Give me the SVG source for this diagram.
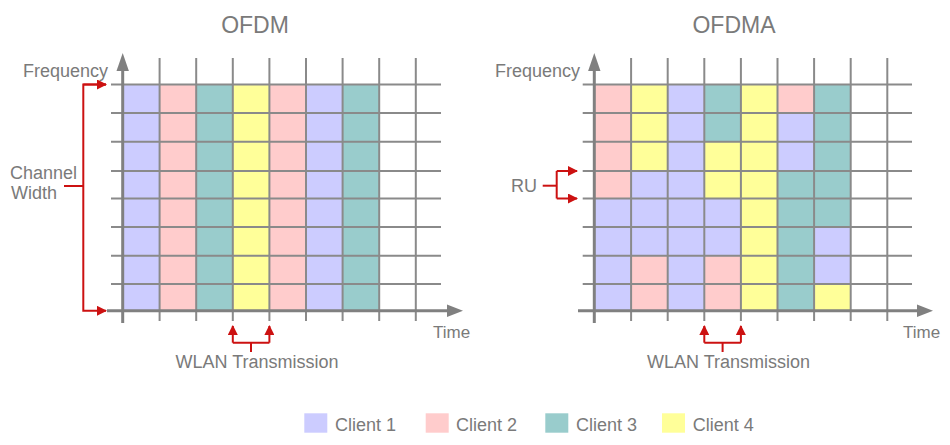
<svg xmlns="http://www.w3.org/2000/svg" width="950" height="445" viewBox="0 0 950 445">
<defs>
<style>
.c1{fill:#ccccff}.c2{fill:#ffcccc}.c3{fill:#99cccc}.c4{fill:#ffff99}
.grid line{stroke:#8a8a8a;stroke-width:2}
.axis{stroke:#808080;stroke-width:3;fill:none}
.ah{fill:#808080}
.t{font-family:"Liberation Sans",Arial,sans-serif;fill:#7a7a7a;font-size:18px}
.title{font-size:23px}
.red{stroke:#cc1111;stroke-width:2;fill:none}
</style>
<marker id="ra" viewBox="0 0 10 10" refX="9" refY="5" markerWidth="5" markerHeight="5" orient="auto" markerUnits="strokeWidth">
<path d="M0,0 L10,5 L0,10 z" fill="#cc1111"/>
</marker>
</defs>
<rect width="950" height="445" fill="#ffffff"/>

<g id="ofdm">
<text class="t title" x="255" y="33" text-anchor="middle">OFDM</text>
<g id="ofdm-cells">
<rect class="c1" x="123" y="84.5" width="36.6" height="226"/>
<rect class="c2" x="159.6" y="84.5" width="36.6" height="226"/>
<rect class="c3" x="196.2" y="84.5" width="36.6" height="226"/>
<rect class="c4" x="232.8" y="84.5" width="36.6" height="226"/>
<rect class="c2" x="269.4" y="84.5" width="36.6" height="226"/>
<rect class="c1" x="306" y="84.5" width="36.6" height="226"/>
<rect class="c3" x="342.6" y="84.5" width="36.6" height="226"/>
</g>
<g class="grid">
<line x1="111" y1="84.5" x2="441" y2="84.5"/>
<line x1="111" y1="113" x2="441" y2="113"/>
<line x1="111" y1="141.7" x2="441" y2="141.7"/>
<line x1="111" y1="171" x2="441" y2="171"/>
<line x1="111" y1="198.5" x2="441" y2="198.5"/>
<line x1="111" y1="227" x2="441" y2="227"/>
<line x1="111" y1="255.7" x2="441" y2="255.7"/>
<line x1="111" y1="284" x2="441" y2="284"/>
<line x1="159.6" y1="58" x2="159.6" y2="321"/>
<line x1="196.2" y1="58" x2="196.2" y2="321"/>
<line x1="232.8" y1="58" x2="232.8" y2="321"/>
<line x1="269.4" y1="58" x2="269.4" y2="321"/>
<line x1="306" y1="58" x2="306" y2="321"/>
<line x1="342.6" y1="58" x2="342.6" y2="321"/>
<line x1="379.2" y1="58" x2="379.2" y2="321"/>
<line x1="415.8" y1="58" x2="415.8" y2="321"/>
</g>
<line class="axis" x1="122.7" y1="323" x2="122.7" y2="68"/>
<polygon class="ah" points="122.7,53 116.5,71 128.9,71"/>
<line class="axis" x1="107" y1="310.8" x2="450" y2="310.8"/>
<polygon class="ah" points="463,310.8 447,304.5 447,317.1"/>
<text class="t" x="108" y="77" text-anchor="end">Frequency</text>
<text class="t" x="433" y="338" font-size="17" style="font-size:17px">Time</text>
<text class="t" x="10" y="179">Channel</text>
<text class="t" x="11" y="199">Width</text>
<text class="t" x="257" y="368" text-anchor="middle">WLAN Transmission</text>
</g>

<g id="ofdma">
<text class="t title" x="734" y="33" text-anchor="middle">OFDMA</text>
<g id="ofdma-cells">
<rect class="c2" x="594.5" y="84.5" width="36.6" height="114"/>
<rect class="c1" x="594.5" y="198.5" width="36.6" height="112"/>
<rect class="c4" x="631.1" y="84.5" width="36.6" height="86.5"/>
<rect class="c1" x="631.1" y="171" width="36.6" height="84.7"/>
<rect class="c2" x="631.1" y="255.7" width="36.6" height="54.8"/>
<rect class="c1" x="667.7" y="84.5" width="36.6" height="226"/>
<rect class="c3" x="704.3" y="84.5" width="36.6" height="57.2"/>
<rect class="c4" x="704.3" y="141.7" width="36.6" height="56.8"/>
<rect class="c1" x="704.3" y="198.5" width="36.6" height="57.2"/>
<rect class="c2" x="704.3" y="255.7" width="36.6" height="54.8"/>
<rect class="c4" x="740.9" y="84.5" width="36.6" height="226"/>
<rect class="c2" x="777.5" y="84.5" width="36.6" height="28.5"/>
<rect class="c1" x="777.5" y="113" width="36.6" height="58"/>
<rect class="c3" x="777.5" y="171" width="36.6" height="139.5"/>
<rect class="c3" x="814.1" y="84.5" width="36.6" height="142.5"/>
<rect class="c1" x="814.1" y="227" width="36.6" height="57"/>
<rect class="c4" x="814.1" y="284" width="36.6" height="26.5"/>
</g>
<g class="grid">
<line x1="582.7" y1="84.5" x2="912" y2="84.5"/>
<line x1="582.7" y1="113" x2="912" y2="113"/>
<line x1="582.7" y1="141.7" x2="912" y2="141.7"/>
<line x1="582.7" y1="171" x2="912" y2="171"/>
<line x1="582.7" y1="198.5" x2="912" y2="198.5"/>
<line x1="582.7" y1="227" x2="912" y2="227"/>
<line x1="582.7" y1="255.7" x2="912" y2="255.7"/>
<line x1="582.7" y1="284" x2="912" y2="284"/>
<line x1="631.1" y1="58" x2="631.1" y2="321"/>
<line x1="667.7" y1="58" x2="667.7" y2="321"/>
<line x1="704.3" y1="58" x2="704.3" y2="321"/>
<line x1="740.9" y1="58" x2="740.9" y2="321"/>
<line x1="777.5" y1="58" x2="777.5" y2="321"/>
<line x1="814.1" y1="58" x2="814.1" y2="321"/>
<line x1="850.7" y1="58" x2="850.7" y2="321"/>
<line x1="887.3" y1="58" x2="887.3" y2="321"/>
</g>
<line class="axis" x1="594.3" y1="323" x2="594.3" y2="68"/>
<polygon class="ah" points="594.3,53 588.1,71 600.5,71"/>
<line class="axis" x1="578" y1="310.8" x2="920" y2="310.8"/>
<polygon class="ah" points="933,310.8 917,304.5 917,317.1"/>
<text class="t" x="580" y="77" text-anchor="end">Frequency</text>
<text class="t" x="903" y="338" style="font-size:17px">Time</text>
<text class="t" x="511" y="192">RU</text>
<text class="t" x="728.5" y="368" text-anchor="middle">WLAN Transmission</text>
</g>

<g id="connectors">
<path class="red" d="M106,84.5 H83.3 V310.8 H106" marker-end="url(#ra)"/>
<path class="red" d="M83.3,84.5 H106" marker-end="url(#ra)"/>
<line class="red" x1="64" y1="186" x2="83.3" y2="186"/>
<path class="red" d="M251,352 V342.7"/>
<path class="red" d="M232.8,342.7 H269.4"/>
<path class="red" d="M232.8,342.7 V326" marker-end="url(#ra)"/>
<path class="red" d="M269.4,342.7 V326" marker-end="url(#ra)"/>
<path class="red" d="M722.6,352 V342.7"/>
<path class="red" d="M704.3,342.7 H740.9"/>
<path class="red" d="M704.3,342.7 V326" marker-end="url(#ra)"/>
<path class="red" d="M740.9,342.7 V326" marker-end="url(#ra)"/>
<line class="red" x1="542.7" y1="185.7" x2="556.7" y2="185.7"/>
<path class="red" d="M556.7,171 V198.5"/>
<path class="red" d="M556.7,171 H577" marker-end="url(#ra)"/>
<path class="red" d="M556.7,198.5 H577" marker-end="url(#ra)"/>
</g>

<g id="legend">
<rect class="c1" x="304.3" y="413.3" width="23" height="19.4"/>
<text class="t" x="335" y="430.7">Client 1</text>
<rect class="c2" x="425.7" y="413.3" width="23" height="19.4"/>
<text class="t" x="456" y="430.7">Client 2</text>
<rect class="c3" x="545.3" y="413.3" width="23" height="19.4"/>
<text class="t" x="576" y="430.7">Client 3</text>
<rect class="c4" x="662" y="413.3" width="23" height="19.4"/>
<text class="t" x="692.7" y="430.7">Client 4</text>
</g>
</svg>
